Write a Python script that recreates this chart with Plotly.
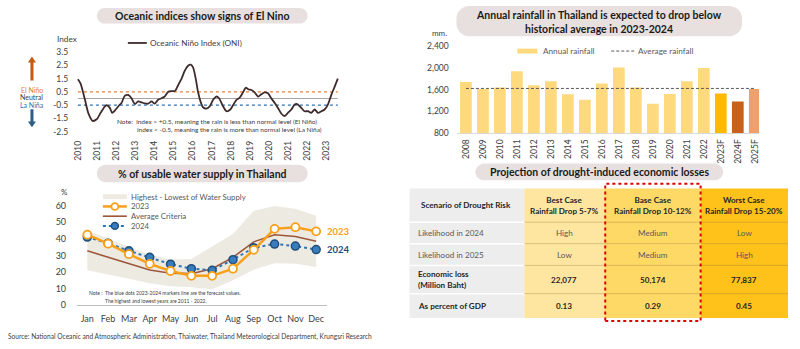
import plotly.graph_objects as go

W, H = 800, 349
FONT = "Lato"

# ---------------- DATA ----------------
oni_x = [2010.0, 2010.14, 2010.37, 2010.54, 2010.77, 2010.98, 2011.19, 2011.41, 2011.5, 2011.67,
         2011.79, 2011.93, 2012.16, 2012.28, 2012.45, 2012.63, 2012.8, 2012.98, 2013.15, 2013.33,
         2013.5, 2013.67, 2013.85, 2014.02, 2014.19, 2014.37, 2014.54, 2014.72, 2014.89, 2015.07,
         2015.24, 2015.42, 2015.59, 2015.76, 2015.9, 2016.02, 2016.16, 2016.28, 2016.41, 2016.54,
         2016.72, 2016.89, 2017.07, 2017.24, 2017.38, 2017.59, 2017.77, 2017.97, 2018.11, 2018.29,
         2018.46, 2018.63, 2018.77, 2018.93, 2019.07, 2019.24, 2019.42, 2019.59, 2019.77, 2019.94,
         2020.11, 2020.29, 2020.46, 2020.64, 2020.81, 2020.98, 2021.16, 2021.33, 2021.47, 2021.68,
         2021.85, 2022.03, 2022.2, 2022.38, 2022.55, 2022.73, 2022.9, 2023.07, 2023.25, 2023.42,
         2023.59]
oni_val = [1.45, 1.13, -0.1, -1.08, -1.69, -1.57, -1.08, -0.59, -0.51, -0.71,
           -1.08, -0.91, -0.51, -0.34, 0.2, 0.27, 0.02, -0.42, -0.22, -0.29,
           -0.37, -0.39, -0.22, -0.39, -0.1, 0.02, 0.15, 0.51, 0.56, 0.56,
           1.0, 1.5, 2.1, 2.47, 2.55, 2.35, 1.5, 0.51, -0.22, -0.66,
           -0.76, -0.59, -0.1, 0.15, 0.02, -0.59, -0.96, -0.83, -0.51, -0.1,
           0.07, 0.46, 0.81, 0.68, 0.64, 0.46, 0.15, 0.32, 0.46, 0.39,
           0.02, -0.34, -0.71, -1.15, -1.32, -1.08, -0.83, -0.46, -0.42, -0.71,
           -0.96, -0.96, -1.08, -0.83, -1.08, -0.96, -0.83, -0.46, 0.27, 0.88,
           1.5]
oni_years = list(range(2010, 2024))
oni_yticks = [3.5, 2.5, 1.5, 0.5, -0.5, -1.5, -2.5]
el_nino_level = 0.5
neutral_level = 0.0
la_nina_level = -0.5

rain_years = ["2008", "2009", "2010", "2011", "2012", "2013", "2014", "2015", "2016", "2017",
              "2018", "2019", "2020", "2021", "2022", "2023F", "2024F", "2025F"]
rain_mm = [1740, 1609, 1638, 1938, 1681, 1753, 1512, 1411, 1710, 2005,
           1638, 1336, 1519, 1753, 1995, 1525, 1378, 1611]
avg_rain = 1620
rain_yticks = [800, 1200, 1600, 2000, 2400]

months = ["Jan", "Feb", "Mar", "Apr", "May", "Jun", "Jul", "Aug", "Sep", "Oct", "Nov", "Dec"]
supply_high = [44.6, 40.2, 35.0, 30.5, 27.5, 27.8, 35.3, 42.8, 56.7, 59.6, 58.0, 53.7]
supply_low = [21.0, 18.7, 16.0, 13.2, 11.5, 10.9, 9.7, 15.0, 21.4, 25.3, 25.0, 23.0]
supply_2023 = [42.4, 37.0, 30.7, 24.9, 20.6, 17.7, 17.7, 22.0, 33.3, 45.9, 46.9, 44.4]
supply_avg = [32.7, 29.0, 25.0, 21.2, 19.3, 19.0, 22.0, 28.8, 38.1, 42.4, 41.3, 38.5]
supply_2024 = [41.0, 37.3, 32.7, 28.8, 24.7, 22.0, 21.0, 27.4, 34.6, 36.8, 35.6, 33.5]
supply_yticks = [0, 10, 20, 30, 40, 50, 60]

table_head = "Scenario of Drought Risk"
cases = ["Best Case<br>Rainfall Drop 5-7%", "Base Case<br>Rainfall Drop 10-12%",
         "Worst Case<br>Rainfall Drop 15-20%"]
row_labels = ["Likelihood in 2024", "Likelihood in 2025",
              "Economic loss<br>(Million Baht)", "As percent of GDP"]
likelihood_2024 = ["High", "Medium", "Low"]
likelihood_2025 = ["Low", "Medium", "High"]
econ_loss = [22077, 50174, 77837]
gdp_pct = [0.13, 0.29, 0.45]

source_text = ("Source: National Oceanic and Atmospheric Administration, Thaiwater, "
               "Thailand Meteorological Department, Krungsri Research")

# ---------------- helpers ----------------
def X(px):
    return px / W

def Y(py):
    return 1 - py / H

shapes = []
annotations = []


def pill(x0, y0, x1, y1, r, color="#E8E0DE"):
    k = 0.5523 * r
    pts = [
        ("M", [(x0 + r, y0)]),
        ("L", [(x1 - r, y0)]),
        ("C", [(x1 - r + k, y0), (x1, y0 + r - k), (x1, y0 + r)]),
        ("L", [(x1, y1 - r)]),
        ("C", [(x1, y1 - r + k), (x1 - r + k, y1), (x1 - r, y1)]),
        ("L", [(x0 + r, y1)]),
        ("C", [(x0 + r - k, y1), (x0, y1 - r + k), (x0, y1 - r)]),
        ("L", [(x0, y0 + r)]),
        ("C", [(x0, y0 + r - k), (x0 + r - k, y0), (x0 + r, y0)]),
    ]
    path = ""
    for cmd, ps in pts:
        path += cmd + " " + " ".join(f"{X(a):.5f},{Y(b):.5f}" for a, b in ps) + " "
    path += "Z"
    shapes.append(dict(type="path", xref="paper", yref="paper", path=path,
                       fillcolor=color, line=dict(width=0), layer="below"))


def poly(points, color):
    path = "M " + " L ".join(f"{X(a):.5f},{Y(b):.5f}" for a, b in points) + " Z"
    shapes.append(dict(type="path", xref="paper", yref="paper", path=path,
                       fillcolor=color, line=dict(width=0)))


def rect(x0, y0, x1, y1, color, layer="below"):
    shapes.append(dict(type="rect", xref="paper", yref="paper", x0=X(x0), x1=X(x1),
                       y0=Y(y1), y1=Y(y0), fillcolor=color, line=dict(width=0), layer=layer))


def hline(x0, x1, y, color, width=1, dash="solid"):
    shapes.append(dict(type="line", xref="paper", yref="paper", x0=X(x0), x1=X(x1),
                       y0=Y(y), y1=Y(y), line=dict(color=color, width=width, dash=dash)))


def circ(cx, cy, d, fill, line, lw=1.5):
    shapes.append(dict(type="circle", xref="paper", yref="paper",
                       x0=X(cx - d / 2), x1=X(cx + d / 2), y0=Y(cy + d / 2), y1=Y(cy - d / 2),
                       fillcolor=fill, line=dict(color=line, width=lw)))


def text(x, y, s, size=8, color="#404040", bold=False, xanchor="left", align="left"):
    if bold:
        s = "<b>" + s.replace("<br>", "</b><br><b>") + "</b>"
    annotations.append(dict(x=X(x), y=Y(y), xref="paper", yref="paper", text=s,
                            showarrow=False, xanchor=xanchor, yanchor="middle", align=align,
                            font=dict(family=FONT, size=size, color=color)))


fig = go.Figure()

# ---------------- ONI chart ----------------
fig.add_trace(go.Scatter(x=[oni_x[0], oni_x[-1]], y=[neutral_level] * 2, mode="lines",
                         line=dict(color="#A6A6A6", width=1.2), xaxis="x", yaxis="y",
                         showlegend=False, hoverinfo="skip"))
fig.add_trace(go.Scatter(x=[oni_x[0], oni_x[-1]], y=[el_nino_level] * 2, mode="lines",
                         line=dict(color="#ED7D31", width=1.4, dash="dot"), xaxis="x", yaxis="y",
                         showlegend=False, hoverinfo="skip"))
fig.add_trace(go.Scatter(x=[oni_x[0], oni_x[-1]], y=[la_nina_level] * 2, mode="lines",
                         line=dict(color="#2E75B6", width=1.4, dash="dot"), xaxis="x", yaxis="y",
                         showlegend=False, hoverinfo="skip"))
fig.add_trace(go.Scatter(x=oni_x, y=oni_val, mode="lines",
                         line=dict(color="#3F2B2B", width=1.8, shape="spline", smoothing=0.7),
                         xaxis="x", yaxis="y", showlegend=False, name="Oceanic Niño Index (ONI)"))

# ---------------- Rainfall chart ----------------
bar_colors = ["#FFD97E"] * 15 + ["#FFB900", "#C9611B", "#EFA06C"]
fig.add_trace(go.Bar(x=rain_years, y=rain_mm, marker=dict(color=bar_colors, line=dict(width=0)),
                     xaxis="x2", yaxis="y2", showlegend=False, name="Annual rainfall"))
fig.add_trace(go.Scatter(x=[rain_years[0], rain_years[-1]], y=[avg_rain] * 2, mode="lines",
                         line=dict(color="#595959", width=1, dash="3px,2px"),
                         xaxis="x2", yaxis="y2", showlegend=False, name="Average rainfall"))

# ---------------- Water supply chart ----------------
fig.add_trace(go.Scatter(x=months, y=supply_low, mode="lines", line=dict(width=0),
                         xaxis="x3", yaxis="y3", showlegend=False, hoverinfo="skip"))
fig.add_trace(go.Scatter(x=months, y=supply_high, mode="lines", line=dict(width=0),
                         fill="tonexty", fillcolor="#EDEAE2", xaxis="x3", yaxis="y3",
                         showlegend=False, name="Highest - Lowest of Water Supply"))
fig.add_trace(go.Scatter(x=months, y=supply_avg, mode="lines",
                         line=dict(color="#9E573A", width=1.6), xaxis="x3", yaxis="y3",
                         showlegend=False, name="Average Criteria"))
fig.add_trace(go.Scatter(x=months, y=supply_2024, mode="lines+markers",
                         line=dict(color="#2E75B6", width=2, dash="dot"),
                         marker=dict(size=8, color="#3A7DBF", line=dict(color="#1F4E79", width=1.5)),
                         xaxis="x3", yaxis="y3", showlegend=False, name="2024"))
fig.add_trace(go.Scatter(x=months, y=supply_2023, mode="lines+markers",
                         line=dict(color="#F8A01C", width=2.5),
                         marker=dict(size=8, color="white", line=dict(color="#F8A01C", width=1.8)),
                         xaxis="x3", yaxis="y3", showlegend=False, name="2023"))

# ---------------- Title pills ----------------
pill(97, 4, 308, 20, 8)
text(202.5, 12, "Oceanic indices show signs of El Nino", 10.5, "#1A1A1A", True, "center")
pill(97, 165, 308, 183, 9)
text(202.5, 174, "% of usable water supply in Thailand", 10.5, "#1A1A1A", True, "center")
pill(457, 2, 743, 33, 13)
text(600, 18, "Annual rainfall in Thailand is expected to drop below<br>historical average in 2023-2024",
     10.5, "#1A1A1A", True, "center", "center")
pill(476, 164, 724, 181, 8.5)
text(600, 172.5, "Projection of drought-induced economic losses", 10.5, "#1A1A1A", True, "center")

# ---------------- ONI decorations ----------------
text(55, 36, "Index", 8.2, "#404040")
hline(128, 147, 40, "#3F2B2B", 1.8)
text(148, 40, "Oceanic Niño Index (ONI)", 8.2, "#404040")
# arrows
poly([(30.5, 78.5), (30.5, 60), (28, 60), (32, 54), (36, 60), (33.5, 60), (33.5, 78.5)], "#C55A11")
poly([(30.5, 108), (30.5, 120.5), (28, 120.5), (32, 126.5), (36, 120.5), (33.5, 120.5), (33.5, 108)],
     "#2E5E86")
text(32, 88.3, "El Niño", 7, "#E07B39", xanchor="center")
text(32, 95.8, "Neutral", 7, "#404040", xanchor="center")
text(32, 103.2, "La Niña", 7, "#2E75B6", xanchor="center")
text(115, 125, "Note:  index &gt; +0.5, meaning the rain is less than normal level (El Niño)<br>"
     + "&nbsp;" * 12 + "index &lt; -0.5, meaning the rain is more than normal level (La Niña)",
     6.5, "#404040")

# ---------------- Rainfall decorations ----------------
text(431, 29.3, "mm.", 8, "#404040")
rect(518, 45.8, 538, 50.8, "#FFD97E", layer="above")
text(542, 48.3, "Annual rainfall", 8.2, "#595959")
hline(612, 635, 48.3, "#595959", 1, "3px,2px")
text(637, 48.3, "Average rainfall", 8.2, "#595959")
hline(483, 720, 163.5, "#EFEFEF", 1)

# ---------------- Water decorations ----------------
text(59, 193, "%", 8, "#404040")
rect(103, 195.3, 127, 200.3, "#EDEAE2", layer="above")
text(129, 197.8, "Highest - Lowest of Water Supply", 7.8, "#595959")
hline(103, 127, 207.8, "#F8A01C", 2.5)
circ(115, 207.8, 7, "white", "#F8A01C", 1.8)
text(129, 207.8, "2023", 7.8, "#595959")
hline(103, 127, 217.8, "#9E573A", 1.6)
text(129, 217.8, "Average Criteria", 7.8, "#595959")
hline(103, 127, 227.8, "#2E75B6", 2, "dot")
circ(115, 227.8, 7, "#3A7DBF", "#1F4E79", 1.5)
text(129, 227.8, "2024", 7.8, "#595959")
text(87, 296.7, "Note :  The blue dots 2023-2024 markers line are the forecast values.", 5.0, "#404040")
text(103, 305, "The highest and lowest years are 2011 - 2022.", 5.0, "#404040")
annotations.append(dict(x=X(325), y=supply_2023[-1], xref="paper", yref="y3", text="<b>2023</b>",
                        showarrow=False, xanchor="left", yanchor="middle",
                        font=dict(family=FONT, size=9.5, color="#F8A01C")))
annotations.append(dict(x=X(325), y=supply_2024[-1], xref="paper", yref="y3", text="<b>2024</b>",
                        showarrow=False, xanchor="left", yanchor="middle",
                        font=dict(family=FONT, size=9.5, color="#1F4E79")))

# ---------------- Table ----------------
col_x = [410, 525, 605, 701.7, 789]
row_y = [189.3, 224, 246, 268.3, 297.3, 322.3]
col_colors = ["#EDEDED", "#FFE6A0", "#FFD966", "#FFC21A"]
for c in range(4):
    rect(col_x[c], row_y[0], col_x[c + 1], row_y[-1], col_colors[c])
for r in range(1, 5):
    hline(col_x[0], col_x[1], row_y[r], "white", 1.5)
    hline(col_x[1], col_x[4], row_y[r], "rgba(150,120,60,0.35)", 1)

dark = "#262626"
grey = "#595959"
TS = 8.1
text(467, (row_y[0] + row_y[1]) / 2, table_head, TS, dark, True, "center")
cx = [(col_x[i] + col_x[i + 1]) / 2 for i in range(1, 4)]
for i in range(3):
    text(cx[i], (row_y[0] + row_y[1]) / 2, cases[i], TS, dark, True, "center", "center")
row_values = [likelihood_2024, likelihood_2025,
              [f"{v:,}" for v in econ_loss], [f"{v:.2f}" for v in gdp_pct]]
for r in range(4):
    ym = (row_y[r + 1] + row_y[r + 2]) / 2
    bold = r >= 2
    text(416.5, ym, row_labels[r], TS, dark if bold else grey, bold, "left")
    for i in range(3):
        text(cx[i], ym, row_values[r][i], TS, dark if bold else grey, bold, "center")

shapes.append(dict(type="rect", xref="paper", yref="paper", x0=X(606), x1=X(701.5),
                   y0=Y(325.5), y1=Y(184.5), fillcolor="rgba(0,0,0,0)",
                   line=dict(color="#E00000", width=2, dash="dot"), layer="above"))

# ---------------- footer ----------------
text(6, 341.7, source_text, 6.6, "#404040")

# ---------------- axes ----------------
tickfont = dict(family=FONT, size=8.5, color="#404040")
fig.update_layout(
    width=W, height=H, margin=dict(l=0, r=0, t=0, b=0),
    paper_bgcolor="white", plot_bgcolor="rgba(0,0,0,0)",
    font=dict(family=FONT),
    showlegend=False, bargap=0.31,
    xaxis=dict(domain=[X(72), X(345)], range=[2009.6867, 2023.9426], anchor="y",
               tickvals=oni_years, ticktext=[str(y) for y in oni_years], tickangle=-90,
               showgrid=False, zeroline=False, showline=False, tickfont=tickfont,
               ticks="outside", ticklen=1, tickcolor="rgba(0,0,0,0)"),
    yaxis=dict(domain=[Y(135), Y(45)], range=[-2.794, 3.824], anchor="x",
               tickvals=oni_yticks, ticktext=[f"{v:.1f}" for v in oni_yticks],
               showgrid=False, zeroline=False, showline=False, tickfont=tickfont,
               ticks="outside", ticklen=1, tickcolor="rgba(0,0,0,0)"),
    xaxis2=dict(domain=[X(458), X(760)], range=[-0.5, 17.25], anchor="y2", type="category",
                tickangle=-90, showgrid=False, zeroline=False, showline=True,
                linecolor="#D9D9D9", linewidth=1, tickfont=tickfont,
                ticks="outside", ticklen=2, tickcolor="rgba(0,0,0,0)"),
    yaxis2=dict(domain=[Y(132.3), Y(42)], range=[800, 2423], anchor="x2",
                tickvals=rain_yticks, tickformat=",", showgrid=False, zeroline=False,
                showline=False, tickfont=tickfont,
                ticks="outside", ticklen=6, tickcolor="rgba(0,0,0,0)"),
    xaxis3=dict(domain=[X(77), X(327)], range=[-0.5, 11.5], anchor="y3", type="category",
                showgrid=False, zeroline=False, showline=True, linecolor="#BFBFBF",
                linewidth=1, tickfont=dict(family=FONT, size=9, color="#404040"),
                ticks="outside", ticklen=5, tickcolor="rgba(0,0,0,0)"),
    yaxis3=dict(domain=[Y(309.3), Y(200)], range=[0, 63.92], anchor="x3",
                tickvals=supply_yticks, showgrid=False, zeroline=False, showline=False,
                tickfont=dict(family=FONT, size=9, color="#404040"),
                ticks="outside", ticklen=8, tickcolor="rgba(0,0,0,0)"),
    shapes=shapes, annotations=annotations,
)

fig.write_html("out.html")
